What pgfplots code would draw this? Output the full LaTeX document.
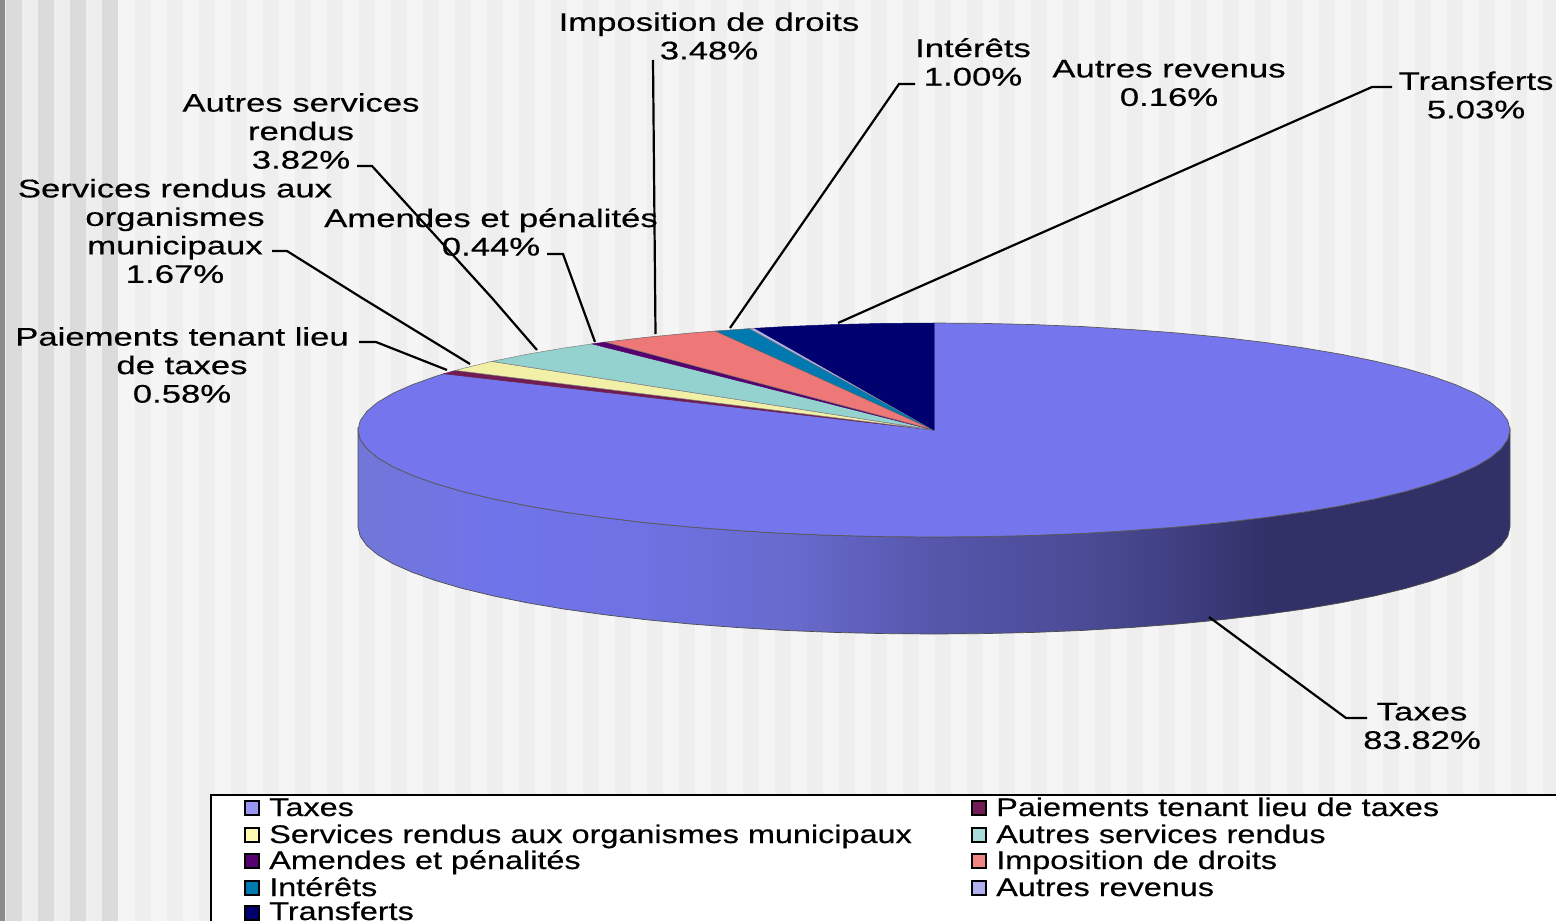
\documentclass[border=0pt]{standalone}
\usepackage{pgfplots}
\pgfplotsset{compat=1.18}
\usepackage{fontspec}
\setmainfont[FakeBold=0.35]{Liberation Sans}
\newfontfamily\fb[FakeBold=0.35]{Liberation Sans}
\definecolor{w0}{HTML}{7276D8}
\definecolor{w1}{HTML}{7074EA}
\definecolor{w2}{HTML}{6E72E2}
\definecolor{w3}{HTML}{686ACC}
\definecolor{w4}{HTML}{5656AC}
\definecolor{w5}{HTML}{4A4A94}
\definecolor{w6}{HTML}{3C3C7C}
\definecolor{w7}{HTML}{313168}
\pgfdeclarehorizontalshading{piewall}{100bp}{
 color(0bp)=(w0); color(25bp)=(w0); color(31bp)=(w1); color(37.5bp)=(w2); color(44bp)=(w3); color(50bp)=(w4); color(57bp)=(w5); color(61.5bp)=(w6); color(64.5bp)=(w7); color(100bp)=(w7)}
\definecolor{cTax}{HTML}{7575EE}
\definecolor{cPay}{HTML}{721C55}
\definecolor{cSer}{HTML}{F2F0A6}
\definecolor{cAut}{HTML}{93D2CF}
\definecolor{cAme}{HTML}{55006F}
\definecolor{cImp}{HTML}{EE7777}
\definecolor{cInt}{HTML}{0078B0}
\definecolor{cRev}{HTML}{B0B0EE}
\definecolor{cTra}{HTML}{00006F}
\newcommand{\lab}[3]{\node[font=\fb\fontsize{25.5}{28.5}\selectfont,align=center,inner sep=0pt,xscale=1.36,transform shape] at (axis cs:#1,#2) {#3};}
\newcommand{\leg}[3]{\node[font=\fb\fontsize{25.5}{28.5}\selectfont,anchor=base west,inner sep=0pt,xscale=1.27,transform shape] at (axis cs:#1,#2) {#3};}
\begin{document}
\begin{tikzpicture}[x=1pt,y=1pt]
\path[use as bounding box] (0,0) rectangle (1556,921);
\clip (0,0) rectangle (1556,921);
\fill[white!96!black] (0,0) rectangle (1556,921);
\foreach \x in {135,167,...,1550} \fill[white!93.5!black] (\x,0) rectangle (\x+16,921);
\fill[white!93.5!black] (5,0) rectangle (118,921);
\foreach \x in {6,38,70,102} \fill[white!86!black] (\x,0) rectangle (\x+16,921);
\fill[white!55!black] (0,0) rectangle (5,921);
\begin{axis}[at={(0,0)},anchor=south west,scale only axis,width=1556pt,height=921pt,
  xmin=0,xmax=1556,ymin=0,ymax=921,y dir=reverse,hide axis,clip=true]
% side wall
\addplot[draw=black!70,line width=0.7pt,shade,shading=piewall] coordinates {
(1510,430)(1507.8,439.3)(1501.2,448.6)(1490.4,457.7)(1475.3,466.6)(1456,475.2)(1432.8,483.5)(1405.8,491.4)(1375.2,498.8)(1341.3,505.7)(1304.2,512)(1264.4,517.6)(1222,522.7)(1177.4,527)(1131,530.5)(1083.1,533.4)(1034,535.4)(984.2,536.6)(934,537)(883.8,536.6)(834,535.4)(784.9,533.4)(737,530.5)(690.6,527)(646,522.7)(603.6,517.6)(563.8,512)(526.7,505.7)(492.8,498.8)(462.2,491.4)(435.2,483.5)(412,475.2)(392.7,466.6)(377.6,457.7)(366.8,448.6)(360.2,439.3)(358,430)
(358,527)(360.2,536.3)(366.8,545.6)(377.6,554.7)(392.7,563.6)(412,572.2)(435.2,580.5)(462.2,588.4)(492.8,595.8)(526.7,602.7)(563.8,609)(603.6,614.6)(646,619.7)(690.6,624)(737,627.5)(784.9,630.4)(834,632.4)(883.8,633.6)(934,634)(984.2,633.6)(1034,632.4)(1083.1,630.4)(1131,627.5)(1177.4,624)(1222,619.7)(1264.4,614.6)(1304.2,609)(1341.3,602.7)(1375.2,595.8)(1405.8,588.4)(1432.8,580.5)(1456,572.2)(1475.3,563.6)(1490.4,554.7)(1501.2,545.6)(1507.8,536.3)(1510,527)
} -- cycle;
% Taxes 83.82
\addplot[fill=cTax,draw=black!65,line width=0.7pt] coordinates {
(934,430)(934,323)(984.2,323.4)(1034,324.6)(1083.1,326.6)(1131,329.5)(1177.4,333)(1222,337.3)(1264.4,342.4)(1304.2,348)(1341.3,354.3)(1375.2,361.2)(1405.8,368.6)(1432.8,376.5)(1456,384.8)(1475.3,393.4)(1490.4,402.3)(1501.2,411.4)(1507.8,420.7)(1510,430)(1507.8,439.3)(1501.2,448.6)(1490.4,457.7)(1475.3,466.6)(1456,475.2)(1432.8,483.5)(1405.8,491.4)(1375.2,498.8)(1341.3,505.7)(1304.2,512)(1264.4,517.6)(1222,522.7)(1177.4,527)(1131,530.5)(1083.1,533.4)(1034,535.4)(984.2,536.6)(934,537)(883.8,536.6)(834,535.4)(784.9,533.4)(737,530.5)(690.6,527)(646,522.7)(603.6,517.6)(563.8,512)(526.7,505.7)(492.8,498.8)(462.2,491.4)(435.2,483.5)(412,475.2)(392.7,466.6)(377.6,457.7)(366.8,448.6)(360.2,439.3)(358,430)(360.2,420.7)(366.8,411.4)(377.6,402.3)(392.7,393.4)(412,384.8)(435.2,376.5)(444,373.7)
} -- cycle;
% Paiements 0.58
\addplot[fill=cPay,draw=cPay,line width=0.5pt] coordinates {(934,430)(444,373.7)(455.5,370.4)} -- cycle;
% Services municipaux 1.67
\addplot[fill=cSer,draw=gray,line width=0.5pt] coordinates {(934,430)(455.5,370.4)(462.2,368.6)(491.8,361.4)} -- cycle;
% Autres services 3.82
\addplot[fill=cAut,draw=gray,line width=0.5pt] coordinates {(934,430)(491.8,361.4)(526.7,354.3)(563.8,348)(592.2,343.9)} -- cycle;
% Amendes 0.44
\addplot[fill=cAme,draw=cAme,line width=0.5pt] coordinates {(934,430)(592.2,343.9)(605.2,342.1)} -- cycle;
% Imposition 3.48
\addplot[fill=cImp,draw=black!60,line width=0.5pt] coordinates {(934,430)(605.2,342.1)(646,337.3)(690.6,333)(715.6,331)} -- cycle;
% Interets 1.00
\addplot[fill=cInt,draw=black!60,line width=0.5pt] coordinates {(934,430)(715.6,331)(737,329.5)(749.5,328.6)} -- cycle;
% Autres revenus 0.16
\addplot[fill=cRev,draw=gray,line width=0.5pt] coordinates {(934,430)(749.5,328.6)(755,328.3)} -- cycle;
% Transferts 5.03
\addplot[fill=cTra,draw=cTra,line width=0.5pt] coordinates {(934,430)(755,328.3)(784.9,326.6)(834,324.6)(883.8,323.4)(934,323)} -- cycle;
% leaders
\addplot[black,line width=2.2pt] coordinates {(1367,718)(1346,718)(1209,617)};
\addplot[black,line width=2.2pt] coordinates {(1392,87)(1372,87)(894,298)(838,323)};
\addplot[black,line width=2.2pt] coordinates {(915,84)(899,84)(730,328)};
\addplot[black,line width=2.2pt] coordinates {(653,60)(655.5,334)};
\addplot[black,line width=2.2pt] coordinates {(547,254)(563,254)(595,342)};
\addplot[black,line width=2.2pt] coordinates {(357,166)(372,166)(492,298)(537,350)};
\addplot[black,line width=2.2pt] coordinates {(272,251)(287,251)(362,298)(470,364)};
\addplot[black,line width=2.2pt] coordinates {(359,342)(376,342)(447,370)};
% legend box
\addplot[fill=white,draw=black,line width=2pt] coordinates {(211,940)(211,795)(1570,795)(1570,940)} -- cycle;
\addplot[only marks,mark=square*,mark size=7pt,mark options={fill=cTax!75!white,draw=black,line width=1.2pt}] coordinates {(252,808)};
\addplot[only marks,mark=square*,mark size=7pt,mark options={fill=cPay,draw=black,line width=1.2pt}] coordinates {(979,808)};
\addplot[only marks,mark=square*,mark size=7pt,mark options={fill=yellow!30!white,draw=black,line width=1.2pt}] coordinates {(252,835)};
\addplot[only marks,mark=square*,mark size=7pt,mark options={fill=cAut!80!white,draw=black,line width=1.2pt}] coordinates {(979,835)};
\addplot[only marks,mark=square*,mark size=7pt,mark options={fill=cAme,draw=black,line width=1.2pt}] coordinates {(252,861)};
\addplot[only marks,mark=square*,mark size=7pt,mark options={fill=cImp!90!white,draw=black,line width=1.2pt}] coordinates {(979,861)};
\addplot[only marks,mark=square*,mark size=7pt,mark options={fill=cInt,draw=black,line width=1.2pt}] coordinates {(252,888)};
\addplot[only marks,mark=square*,mark size=7pt,mark options={fill=cRev,draw=black,line width=1.2pt}] coordinates {(979,888)};
\addplot[only marks,mark=square*,mark size=7pt,mark options={fill=cTra,draw=black,line width=1.2pt}] coordinates {(252,913)};
\leg{269}{816}{Taxes}
\leg{269}{843}{Services rendus aux organismes municipaux}
\leg{269}{869}{Amendes et pénalités}
\leg{269}{896}{Intérêts}
\leg{269}{920}{Transferts}
\leg{996}{816}{Paiements tenant lieu de taxes}
\leg{996}{843}{Autres services rendus}
\leg{996}{869}{Imposition de droits}
\leg{996}{896}{Autres revenus}
\lab{709}{36}{Imposition de droits\\3.48\%}
\lab{973}{62}{Intérêts\\1.00\%}
\lab{1169}{83}{Autres revenus\\0.16\%}
\lab{1476}{95}{Transferts\\5.03\%}
\lab{301}{131}{Autres services\\rendus\\3.82\%}
\lab{175}{231}{Services rendus aux\\organismes\\municipaux\\1.67\%}
\lab{491}{232}{Amendes et pénalités\\0.44\%}
\lab{182}{365}{Paiements tenant lieu\\de taxes\\0.58\%}
\lab{1422}{726}{Taxes\\83.82\%}
\end{axis}
\end{tikzpicture}
\end{document}
